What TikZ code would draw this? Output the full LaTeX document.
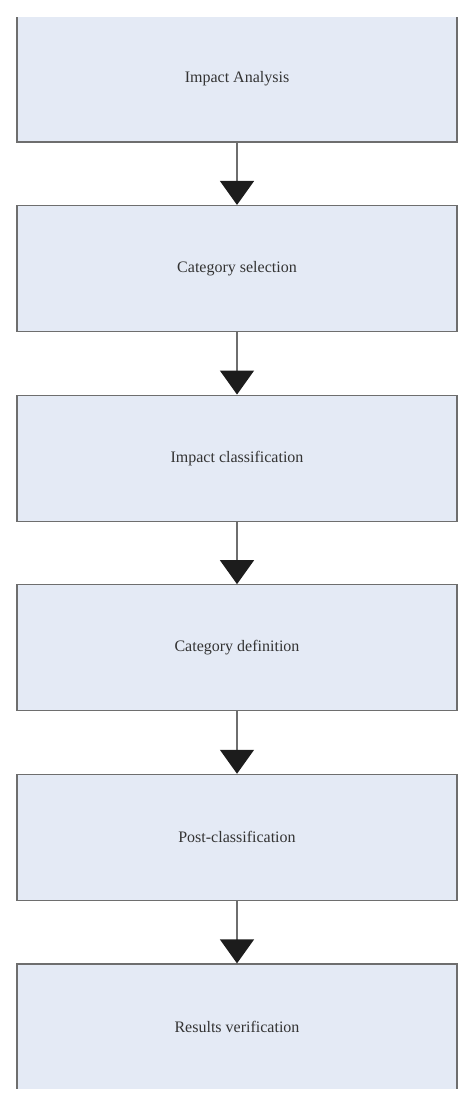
\documentclass[tikz,border=0pt]{standalone}
\usepackage{fontspec}
\setmainfont{Liberation Serif}
\usetikzlibrary{arrows.meta}
\definecolor{boxfill}{HTML}{E4EAF5}
\definecolor{boxline}{HTML}{6E6E6E}
\definecolor{tipcol}{HTML}{1C1C1C}
\definecolor{txtcol}{HTML}{333333}
\tikzset{
  stepbox/.style={draw=boxline, fill=boxfill, line width=1.3pt, minimum width=440pt, minimum height=126pt, inner sep=0pt, text=txtcol, font=\fontsize{16}{19}\selectfont},
  flowarrow/.style={draw=boxline, line width=1.3pt, -{Triangle[width=34pt,length=24pt,color=tipcol]}}
}
\begin{document}
\begin{tikzpicture}[x=1pt,y=-1pt]
\useasboundingbox (0,0) rectangle (474,1107);
\begin{scope}
\clip (0,18) rectangle (474,1088);
\node[stepbox] (b1) at (237,79) {Impact Analysis};
\node[stepbox] (b2) at (237,268.6) {Category selection};
\node[stepbox] (b3) at (237,458.2) {Impact classification};
\node[stepbox] (b4) at (237,647.8) {Category definition};
\node[stepbox] (b5) at (237,837.4) {Post-classification};
\node[stepbox] (b6) at (237,1027) {Results verification};
\draw[flowarrow] (b1.south) -- (b2.north);
\draw[flowarrow] (b2.south) -- (b3.north);
\draw[flowarrow] (b3.south) -- (b4.north);
\draw[flowarrow] (b4.south) -- (b5.north);
\draw[flowarrow] (b5.south) -- (b6.north);
\end{scope}
\end{tikzpicture}
\end{document}
